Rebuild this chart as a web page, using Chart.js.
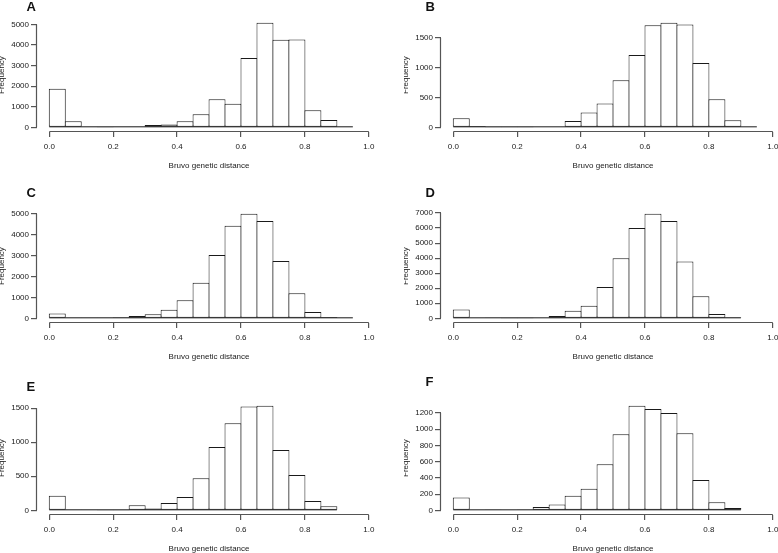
<!DOCTYPE html>
<html>
<head>
<meta charset="utf-8">
<script src="https://cdn.jsdelivr.net/npm/chart.js@4.4.0/dist/chart.umd.min.js"></script>
<style>
html, body { margin: 0; padding: 0; background: #fff; overflow: hidden; }
#wrap { position: relative; width: 778px; height: 553px; overflow: hidden; background: #fff; }
#wrap canvas { position: absolute; }
</style>
</head>
<body>
<div id="wrap"></div>
<script>
// histogram bins (Bruvo distance), 0.05 wide
var binEdges = [0, 0.05, 0.10, 0.15, 0.20, 0.25, 0.30, 0.35, 0.40, 0.45, 0.50,
                0.55, 0.60, 0.65, 0.70, 0.75, 0.80, 0.85, 0.90, 0.95];
var xTicks = [0, 0.2, 0.4, 0.6, 0.8, 1.0];
var panelLetters = ['A', 'B', 'C', 'D', 'E', 'F'];
var xLabel = 'Bruvo genetic distance';
var yLabel = 'Frequency';

// counts per bin
var countsA = [1880, 300, 20, 5, 40, 10, 110, 140, 300, 640, 1370, 1140, 3370, 5080, 4250, 4270, 830, 350, 10];
var countsB = [150, 20, 2, 2, 2, 8, 10, 105, 250, 400, 790, 1210, 1710, 1750, 1720, 1075, 470, 120, 10];
var countsC = [225, 20, 10, 10, 50, 105, 200, 410, 870, 1700, 3030, 4430, 5000, 4660, 2740, 1200, 300, 60, 10];
var countsD = [590, 40, 20, 10, 10, 40, 160, 500, 840, 2080, 4000, 6000, 6950, 6470, 3780, 1470, 290, 70];
var countsE = [215, 5, 5, 2, 2, 75, 28, 108, 195, 470, 930, 1280, 1525, 1535, 885, 520, 135, 60];
var countsF = [158, 0, 5, 0, 5, 40, 72, 180, 265, 570, 940, 1290, 1250, 1200, 950, 375, 100, 30];

var yTicksA = [0, 1000, 2000, 3000, 4000, 5000];
var yTicksB = [0, 500, 1000, 1500];
var yTicksC = [0, 1000, 2000, 3000, 4000, 5000];
var yTicksD = [0, 1000, 2000, 3000, 4000, 5000, 6000, 7000];
var yTicksE = [0, 500, 1000, 1500];
var yTicksF = [0, 200, 400, 600, 800, 1000, 1200];

var panelCounts = [countsA, countsB, countsC, countsD, countsE, countsF];
var panelYTicks = [yTicksA, yTicksB, yTicksC, yTicksD, yTicksE, yTicksF];

// layout of the six panels on the page
var panelLeft = [0, 404, 0, 404, 0, 404];
var panelTop = [-14, -14, 177, 177, 369, 369];
var letterX = [26.5, 21.5, 26.5, 21.5, 26.5, 21.5];
var letterY = [25, 24.5, 19.5, 19.5, 22, 16.5];

var fontFam = '"Liberation Sans", Arial, Helvetica, sans-serif';
var ink = '#1a1a1a';

// R-style axes: lines only from first to last tick, baseline under the bins, panel letter
var rAxes = {
  id: 'rAxes',
  afterDatasetsDraw: function (chart) {
    var o = chart.options.plugins.rAxes;
    var xs = chart.scales.x, ys = chart.scales.y;
    var ctx = chart.ctx;
    var y0 = ys.getPixelForValue(0) - 0.5;
    ctx.save();
    ctx.strokeStyle = ink;
    ctx.lineWidth = 1;
    ctx.beginPath();
    ctx.moveTo(xs.getPixelForValue(binEdges[0]), y0);
    ctx.lineTo(xs.getPixelForValue(binEdges[o.nBins]), y0);
    ctx.stroke();
    ctx.restore();
  },
  afterDraw: function (chart) {
    var o = chart.options.plugins.rAxes;
    var xs = chart.scales.x, ys = chart.scales.y, a = chart.chartArea;
    var ctx = chart.ctx;
    ctx.save();
    ctx.strokeStyle = '#555';
    ctx.lineWidth = 1.2;
    ctx.beginPath();
    ctx.moveTo(xs.getPixelForValue(xTicks[0]), a.bottom);
    ctx.lineTo(xs.getPixelForValue(xTicks[xTicks.length - 1]), a.bottom);
    ctx.moveTo(a.left, ys.getPixelForValue(o.yTicks[0]));
    ctx.lineTo(a.left, ys.getPixelForValue(o.yTicks[o.yTicks.length - 1]));
    ctx.stroke();
    ctx.fillStyle = '#111';
    ctx.font = 'bold 13px ' + fontFam;
    ctx.textBaseline = 'alphabetic';
    ctx.textAlign = 'left';
    ctx.fillText(o.letter, o.lx, o.ly);
    ctx.restore();
  }
};

function drawPanel(i) {
  var counts = panelCounts[i];
  var yTicks = panelYTicks[i];
  var top = Math.max.apply(null, counts);
  var points = counts.map(function (c, k) {
    return { x: (binEdges[k] + binEdges[k + 1]) / 2, y: c };
  });

  var cv = document.createElement('canvas');
  cv.width = 404;
  cv.height = 205;
  cv.style.left = panelLeft[i] + 'px';
  cv.style.top = panelTop[i] + 'px';
  document.getElementById('wrap').appendChild(cv);

  new Chart(cv, {
    type: 'bar',
    data: {
      datasets: [{
        data: points,
        backgroundColor: '#fff',
        borderColor: ink,
        borderWidth: 1,
        borderSkipped: false,
        barPercentage: 1.0626,
        categoryPercentage: 1
      }]
    },
    options: {
      responsive: false,
      animation: false,
      devicePixelRatio: 1,
      layout: { padding: { top: 32.6, left: 0, right: 22.4, bottom: 19.5 } },
      plugins: {
        legend: { display: false },
        tooltip: { enabled: false },
        title: { display: false },
        rAxes: { letter: panelLetters[i], lx: letterX[i], ly: letterY[i], yTicks: yTicks, nBins: counts.length }
      },
      scales: {
        x: {
          type: 'linear',
          min: -0.04,
          max: 1.04,
          offset: false,
          afterBuildTicks: function (s) { s.ticks = xTicks.map(function (v) { return { value: v }; }); },
          afterFit: function (s) { s.height = 40; },
          grid: { offset: false, drawOnChartArea: false, drawTicks: true, tickLength: 5.5, color: '#555', lineWidth: 1.2 },
          border: { display: false },
          ticks: {
            padding: 5, maxRotation: 0, autoSkip: false, color: ink,
            font: { family: fontFam, size: 8 },
            callback: function (v) { return v.toFixed(1); }
          },
          title: {
            display: true, text: xLabel, color: ink,
            font: { family: fontFam, size: 8, lineHeight: 1.2 },
            padding: { top: 0, bottom: 1 }
          }
        },
        y: {
          min: -0.04 * top,
          max: 1.04 * top,
          afterBuildTicks: function (s) { s.ticks = yTicks.map(function (v) { return { value: v }; }); },
          afterFit: function (s) { s.width = 36.5; },
          grid: { drawOnChartArea: false, drawTicks: true, tickLength: 5.5, color: '#555', lineWidth: 1.2 },
          border: { display: false },
          ticks: {
            padding: 2, autoSkip: false, color: ink,
            font: { family: fontFam, size: 8 },
            callback: function (v) { return String(v); }
          },
          title: {
            display: true, text: yLabel, color: ink,
            font: { family: fontFam, size: 8, lineHeight: 0.5 },
            padding: 0
          }
        }
      }
    },
    plugins: [rAxes]
  });
}

for (var i = 0; i < 6; i++) {
  drawPanel(i);
}
</script>
</body>
</html>
